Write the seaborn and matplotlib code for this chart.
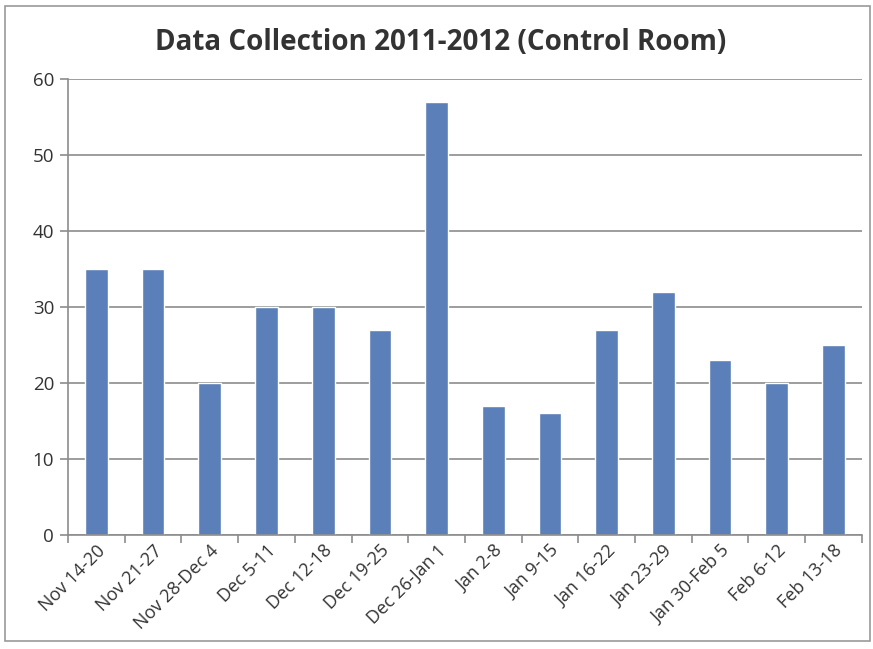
import matplotlib
matplotlib.use("Agg")
import matplotlib.pyplot as plt
from matplotlib.patches import Rectangle
import numpy as np
import pandas as pd
import seaborn as sns

weeks = ["Nov 14-20", "Nov 21-27", "Nov 28-Dec 4", "Dec 5-11", "Dec 12-18",
         "Dec 19-25", "Dec 26-Jan 1", "Jan 2-8", "Jan 9-15", "Jan 16-22",
         "Jan 23-29", "Jan 30-Feb 5", "Feb 6-12", "Feb 13-18"]
counts = [35, 35, 20, 30, 30, 27, 57, 17, 16, 27, 32, 23, 20, 25]
y_ticks = [0, 10, 20, 30, 40, 50, 60]
title = "Data Collection 2011-2012 (Control Room)"

df = pd.DataFrame({"week": weeks, "count": counts})

sns.set_theme(style="white")
plt.rcParams["font.family"] = ["Open Sans", "DejaVu Sans"]

fig = plt.figure(figsize=(8.73, 6.49), dpi=100)
ax = fig.add_axes([0.078, 0.176, 0.909, 0.702])

sns.barplot(data=df, x="week", y="count", color="#5b7fb8", saturation=1,
            width=0.4, ax=ax)

ax.set_ylim(0, 60)
ax.set_xlim(-0.5, len(weeks) - 0.5)
ax.set_yticks(y_ticks)
ax.yaxis.grid(True, color="#8c8c8c", linewidth=1.2)
ax.set_axisbelow(True)
ax.set_xlabel("")
ax.set_ylabel("")

for side in ["top", "right"]:
    ax.spines[side].set_visible(False)
for side in ["left", "bottom"]:
    ax.spines[side].set_color("#8c8c8c")
    ax.spines[side].set_linewidth(1.2)

# category boundary tick marks on the x axis
ax.set_xticks(np.arange(-0.5, len(weeks), 1.0), minor=True)
ax.tick_params(axis="x", which="minor", length=6, color="#8c8c8c", width=1.2,
               direction="out", bottom=True)
ax.tick_params(axis="x", which="major", length=0, pad=5)
ax.tick_params(axis="y", length=6, color="#8c8c8c", width=1.2, direction="out",
               left=True, pad=4)
ax.set_xticks(range(len(weeks)))
ax.set_xticklabels(weeks, rotation=45, ha="right", rotation_mode="anchor",
                   fontsize=13, color="#333333")
for lbl in ax.get_yticklabels():
    lbl.set_fontsize(13.5)
    lbl.set_color("#333333")

fig.text(0.505, 0.935, title, ha="center", va="center", fontsize=20,
         fontweight="bold", color="#333333")

# outer chart frame
fig.patches.append(Rectangle((0.006, 0.012), 0.99, 0.978, transform=fig.transFigure,
                             fill=False, edgecolor="#9a9a9a", linewidth=1.2))

fig.savefig("out.png", dpi=100)
